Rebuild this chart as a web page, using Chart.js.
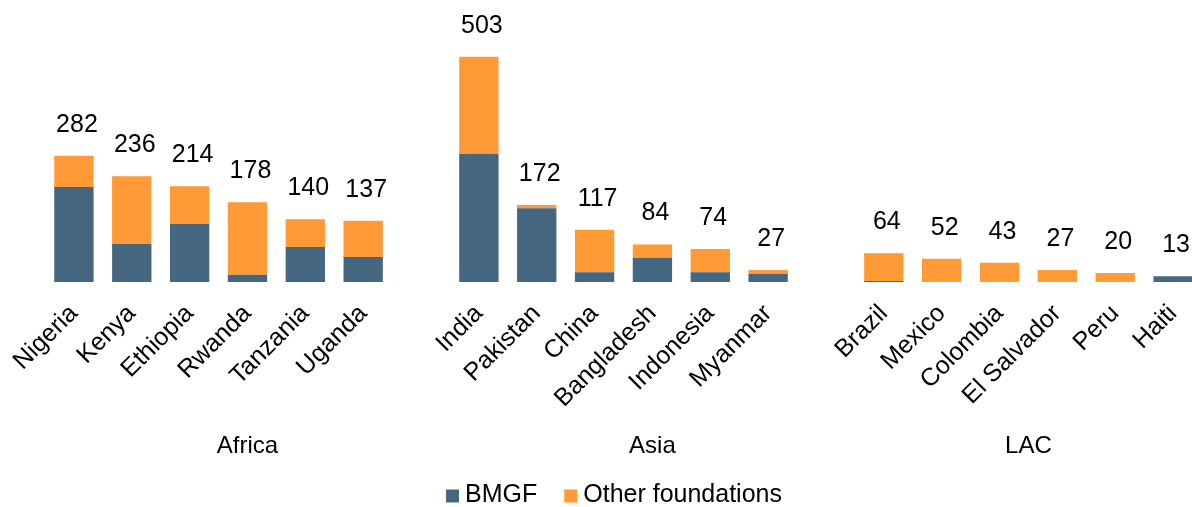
<!DOCTYPE html>
<html>
<head>
<meta charset="utf-8">
<script src="https://cdn.jsdelivr.net/npm/chart.js@4"></script>
<style>
  html, body { margin: 0; padding: 0; background: #fff; overflow: hidden; }
  #wrap { width: 1210px; height: 507px; position: relative; }
</style>
</head>
<body>
<div id="wrap"><canvas id="fundChart"></canvas></div>
<script>
// 국가 (빈 칸 = 지역 사이 간격)
const countries = ['Nigeria', 'Kenya', 'Ethiopia', 'Rwanda', 'Tanzania', 'Uganda', '',
                   'India', 'Pakistan', 'China', 'Bangladesh', 'Indonesia', 'Myanmar', '',
                   'Brazil', 'Mexico', 'Colombia', 'El Salvador', 'Peru', 'Haiti'];
const bmgfValues = [212, 85, 130, 16, 78, 56, null,
                    286, 165, 22, 54, 22, 18, null,
                    2, 0, 0, 0, 0, 13];
const totalValues = [282, 236, 214, 178, 140, 137, null,
                     503, 172, 117, 84, 74, 27, null,
                     64, 52, 43, 27, 20, 13];
const otherValues = totalValues.map((t, i) => t === null ? null : t - bmgfValues[i]);

// 지역 그룹 (첫 번째, 마지막 카테고리 인덱스)
const regions = [
    { name: 'Africa', from: 0, to: 6 },
    { name: 'Asia', from: 7, to: 13 },
    { name: 'LAC', from: 14, to: 19 }
];

const seriesNames = ['BMGF', 'Other foundations'];
const seriesColors = ['#466781', '#FF9A36'];
const fontFamily = 'Arial, "Liberation Sans", sans-serif';

const extrasPlugin = {
    id: 'extras',
    afterDatasetsDraw(chart) {
        const ctx = chart.ctx;
        const top = chart.getDatasetMeta(1);
        ctx.save();
        ctx.fillStyle = '#000';
        ctx.textAlign = 'center';
        ctx.textBaseline = 'alphabetic';
        ctx.font = '25px ' + fontFamily;
        top.data.forEach((bar, i) => {
            if (totalValues[i] === null) return;
            ctx.fillText(String(totalValues[i]), bar.x + 3, bar.y - 24);
        });
        ctx.restore();
    },
    afterDraw(chart) {
        const ctx = chart.ctx;
        const x = chart.scales.x;
        ctx.save();
        ctx.fillStyle = '#000';
        ctx.textAlign = 'center';
        ctx.textBaseline = 'middle';
        ctx.font = '24px ' + fontFamily;
        regions.forEach(r => {
            const cx = (x.getPixelForTick(r.from) + x.getPixelForTick(r.to)) / 2;
            ctx.fillText(r.name, cx, 446);
        });

        // 범례
        ctx.font = '25px ' + fontFamily;
        const box = 13, gapBox = 6, gapItem = 27;
        const widths = seriesNames.map(n => box + gapBox + ctx.measureText(n).width);
        const total = widths.reduce((a, b) => a + b, 0) + gapItem;
        let lx = 614 - total / 2;
        const ly = 495;
        ctx.textAlign = 'left';
        seriesNames.forEach((n, i) => {
            ctx.fillStyle = seriesColors[i];
            ctx.fillRect(lx, ly - box / 2 + 1, box, box);
            ctx.fillStyle = '#000';
            ctx.fillText(n, lx + box + gapBox, ly);
            lx += widths[i] + gapItem;
        });
        ctx.restore();
    }
};

const ctxFund = document.getElementById('fundChart').getContext('2d');
new Chart(ctxFund, {
    type: 'bar',
    data: {
        labels: countries,
        datasets: [{
            label: seriesNames[0],
            data: bmgfValues,
            backgroundColor: seriesColors[0],
            barPercentage: 0.68,
            categoryPercentage: 1.0
        }, {
            label: seriesNames[1],
            data: otherValues,
            backgroundColor: seriesColors[1],
            barPercentage: 0.68,
            categoryPercentage: 1.0
        }]
    },
    options: {
        responsive: true,
        maintainAspectRatio: false,
        animation: false,
        layout: {
            padding: { left: 45, right: 8, top: 0, bottom: 0 }
        },
        plugins: {
            legend: { display: false },
            tooltip: { enabled: false }
        },
        scales: {
            x: {
                stacked: true,
                grid: { display: false },
                border: { display: false },
                afterFit: (scale) => { scale.height = 225; },
                ticks: {
                    color: '#000',
                    autoSkip: false,
                    minRotation: 45,
                    maxRotation: 45,
                    padding: 9,
                    font: { family: fontFamily, size: 25 }
                }
            },
            y: {
                stacked: true,
                display: false,
                min: 0,
                max: 630
            }
        }
    },
    plugins: [extrasPlugin]
});
</script>
</body>
</html>
